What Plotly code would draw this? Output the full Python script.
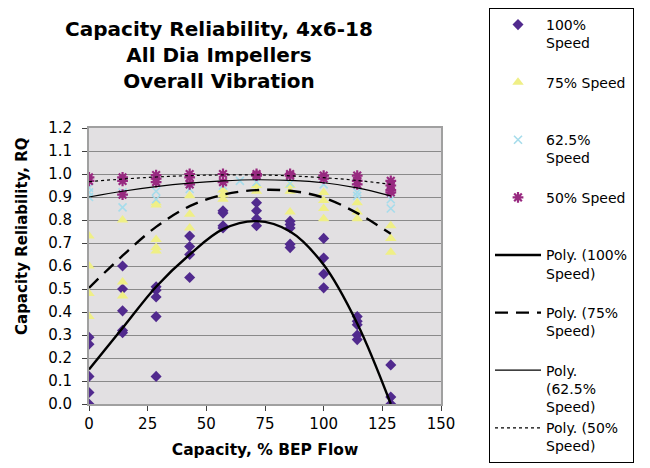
import plotly.graph_objects as go

# ---- data ----
cap100 = [0, 0, 0, 0, 0,
          14.3, 14.3, 14.3, 14.3, 14.3,
          28.6, 28.6, 28.6, 28.6, 28.6,
          42.9, 42.9, 42.9, 42.9,
          57.1, 57.1, 57.1, 57.1,
          71.4, 71.4, 71.4, 71.4,
          85.7, 85.7, 85.7, 85.7, 85.7,
          100, 100, 100, 100,
          114.3, 114.3, 114.3, 114.3, 114.3,
          128.6, 128.6, 128.6]
rq100 = [0.29, 0.26, 0.12, 0.05, 0.0,
         0.60, 0.50, 0.405, 0.32, 0.31,
         0.51, 0.495, 0.465, 0.38, 0.12,
         0.73, 0.685, 0.65, 0.55,
         0.84, 0.83, 0.775, 0.765,
         0.875, 0.84, 0.805, 0.775,
         0.795, 0.78, 0.765, 0.695, 0.68,
         0.72, 0.635, 0.565, 0.505,
         0.38, 0.36, 0.345, 0.30, 0.28,
         0.17, 0.03, 0.0]

cap75 = [0, 0, 0, 0,
         14.3, 14.3, 14.3,
         28.6, 28.6, 28.6, 28.6, 28.6,
         42.9, 42.9, 42.9,
         57.1, 57.1, 57.1,
         71.4, 71.4,
         85.7, 85.7, 85.7,
         100, 100, 100, 100,
         114.3, 114.3, 114.3,
         128.6, 128.6, 128.6]
rq75 = [0.73, 0.60, 0.48, 0.38,
        0.80, 0.53, 0.47,
        0.875, 0.865, 0.715, 0.68, 0.665,
        0.905, 0.825, 0.765,
        0.93, 0.91, 0.89,
        0.95, 0.925,
        0.95, 0.925, 0.835,
        0.92, 0.885, 0.85, 0.805,
        0.875, 0.835, 0.805,
        0.775, 0.72, 0.66]

cap625 = [0, 0, 0,
          14.3, 14.3,
          28.6, 28.6,
          42.9,
          57.1, 64.3,
          71.4,
          85.7,
          100,
          114.3, 114.3,
          128.6, 128.6]
rq625 = [0.94, 0.92, 0.90,
         0.92, 0.855,
         0.925, 0.89,
         0.935,
         0.95, 0.97,
         0.965,
         0.96,
         0.955,
         0.92, 0.905,
         0.89, 0.85]

cap50 = [0, 0,
         14.3, 14.3, 14.3,
         28.6, 28.6, 28.6,
         42.9, 42.9, 42.9,
         57.1, 57.1,
         71.4, 71.4,
         85.7, 85.7,
         100, 100,
         114.3, 114.3, 114.3,
         128.6, 128.6, 128.6, 128.6]
rq50 = [0.985, 0.97,
        0.985, 0.97, 0.91,
        0.995, 0.98, 0.965,
        1.0, 0.985, 0.955,
        1.0, 0.965,
        1.0, 0.993,
        1.0, 0.993,
        0.993, 0.98,
        0.993, 0.97, 0.955,
        0.97, 0.95, 0.93, 0.92]

# polynomial trendlines
trend_x = [0, 14.3, 28.6, 42.9, 57.1, 71.4, 85.7, 100, 114.3, 128.6]
trend100 = [0.15, 0.33, 0.51, 0.65, 0.76, 0.795, 0.75, 0.605, 0.35, 0.0]
trend75 = [0.505, 0.645, 0.77, 0.86, 0.91, 0.93, 0.927, 0.897, 0.83, 0.74]
trend625 = [0.90, 0.925, 0.945, 0.96, 0.97, 0.975, 0.972, 0.962, 0.94, 0.905]
trend50 = [0.967, 0.978, 0.987, 0.993, 0.996, 0.996, 0.992, 0.984, 0.972, 0.955]

x_ticks = [0, 25, 50, 75, 100, 125, 150]

title_lines = ["Capacity Reliability, 4x6-18", "All Dia Impellers", "Overall Vibration"]
y_title = "Capacity Reliability, RQ"
x_title = "Capacity, % BEP Flow"

PAD = "<br>\u00a0"
FONT = "DejaVu Sans"

fig = go.Figure()

fig.add_trace(go.Scatter(
    x=cap100, y=rq100, mode="markers", name="100%<br>Speed" + PAD,
    marker=dict(symbol="diamond", size=8.5, color="#512A8E")))
fig.add_trace(go.Scatter(
    x=cap75, y=rq75, mode="markers", name="75% Speed" + PAD + PAD,
    marker=dict(symbol="triangle-up", size=10, color="#EFEF86")))
fig.add_trace(go.Scatter(
    x=cap625, y=rq625, mode="markers", name="62.5%<br>Speed" + PAD,
    marker=dict(symbol="x-thin-open", size=8, color="#A6DCEB",
                line=dict(width=1.6, color="#A6DCEB"))))
fig.add_trace(go.Scatter(
    x=cap50, y=rq50, mode="markers", name="50% Speed" + PAD + PAD,
    marker=dict(symbol="asterisk-open", size=9, color="#982A80",
                line=dict(width=2.2, color="#982A80"))))

fig.add_trace(go.Scatter(
    x=trend_x, y=trend100, mode="lines", name="Poly. (100%<br>Speed)" + PAD,
    line=dict(color="black", width=2.4, shape="spline")))
fig.add_trace(go.Scatter(
    x=trend_x, y=trend75, mode="lines", name="Poly. (75%<br>Speed)" + PAD,
    line=dict(color="black", width=2.4, dash="13px,8px", shape="spline")))
fig.add_trace(go.Scatter(
    x=trend_x, y=trend625, mode="lines", name="Poly.<br>(62.5%<br>Speed)",
    line=dict(color="black", width=1.2, shape="spline")))
fig.add_trace(go.Scatter(
    x=trend_x, y=trend50, mode="lines", name="Poly. (50%<br>Speed)",
    line=dict(color="black", width=1.2, dash="3px,3px", shape="spline")))

fig.update_layout(
    width=650, height=468,
    margin=dict(l=89, r=209, t=128, b=64, pad=0),
    paper_bgcolor="white",
    plot_bgcolor="#E2E0E2",
    font=dict(family=FONT, size=14, color="black"),
    title=dict(text="<br>".join(title_lines),
               font=dict(family=FONT, size=20, color="black", weight="bold"),
               x=219 / 650, xanchor="center", xref="container",
               y=1 - 36 / 468, yanchor="top", yref="container"),
    showlegend=True,
    legend=dict(x=489 / 650, xref="container", xanchor="left",
                y=1 - 8 / 468, yref="container", yanchor="top",
                maxheight=700, entrywidth=94, entrywidthmode="pixels",
                bgcolor="white", bordercolor="black", borderwidth=1,
                font=dict(family=FONT, size=14, color="black"),
                valign="top", itemwidth=46, tracegroupgap=0),
    annotations=[dict(text=y_title, textangle=-90, showarrow=False,
                      xref="paper", yref="paper",
                      x=(22 - 89) / 352, y=(404 - 236) / 276,
                      xanchor="center", yanchor="middle",
                      font=dict(family=FONT, size=15, weight="bold"))],
)

fig.update_xaxes(range=[0, 150], tickvals=x_ticks, ticks="outside", ticklen=5,
                 tickcolor="#404040", showline=True, linecolor="#A0A0A0", linewidth=2,
                 mirror=True, showgrid=False, zeroline=False,
                 tickfont=dict(family=FONT, size=15),
                 title=dict(text=x_title, standoff=12,
                            font=dict(family=FONT, size=15.5, weight="bold")))
fig.update_yaxes(range=[0, 1.2], dtick=0.1, tickformat=".1f", ticks="outside", ticklen=5,
                 tickcolor="#404040", showline=True, linecolor="#A0A0A0", linewidth=2,
                 mirror=True, showgrid=True, gridcolor="#8A8A8A", gridwidth=1,
                 zeroline=False, ticklabelstandoff=7,
                 tickfont=dict(family=FONT, size=15))

fig.write_html("out.html")
